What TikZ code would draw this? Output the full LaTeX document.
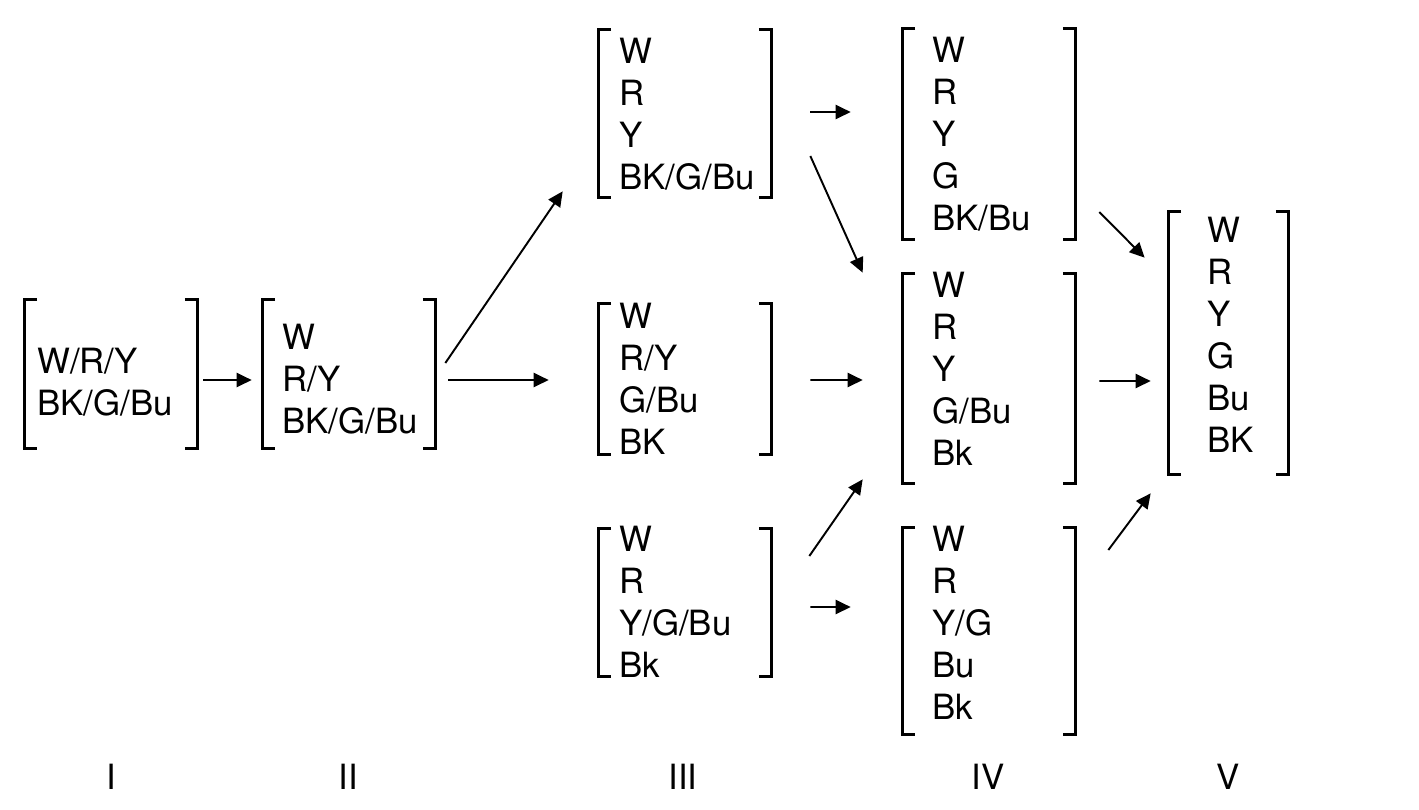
\documentclass[tikz,border=0pt]{standalone}
\usepackage{fontspec}
\setmainfont{TeX Gyre Heros}
\usetikzlibrary{arrows.meta,calc}
\begin{document}
\begin{tikzpicture}[x=0.02cm, y=-0.02cm, font=\fontsize{19.8}{23.9}\selectfont, line cap=butt, >={Triangle[length=8.5pt,width=8pt]},
	box/.style={inner sep=0pt, minimum width=3.46cm},
	txt/.style={inner sep=0pt, anchor=west, align=left},
	brk/.style={line width=1.7pt},
	arr/.style={->, line width=1.1pt}]
			\useasboundingbox (0,0) rectangle (1419,809);
			\node[box, minimum height=2.98cm] (s1) at (111,374) {};
			\node[box, minimum height=2.98cm] (s2) at (349,374) {};
			\node[box, minimum height=3.36cm] (s3a) at (685,113.5) {};
			\node[box, minimum height=3cm] (s3b) at (685,379) {};
			\node[box, minimum height=2.96cm] (s3c) at (685,602.5) {};
			\node[box, minimum height=4.2cm] (s4a) at (989,134) {};
			\node[box, minimum height=4.18cm] (s4b) at (989,378.5) {};
			\node[box, minimum height=4.12cm] (s4c) at (989,631) {};
			\node[box, minimum width=2.4cm, minimum height=5.24cm] (s5) at (1228.5,343) {};
			\foreach \n in {s1,s2,s3a,s3b,s3c,s4a,s4b,s4c,s5}{
				\draw[brk] (\n.north west) ++(13,0) -| (\n.south west) -- ++(13,0);
				\draw[brk] (\n.north east) ++(-13,0) -| (\n.south east) -- ++(-13,0);
			}
			\node[txt] (t1) at (37,382) {W/R/Y\\BK/G/Bu};
			\node[txt] (t2) at (282,379) {W\\R/Y\\BK/G/Bu};
			\node[txt] (t3a) at (619,114) {W\\R\\Y\\BK/G/Bu};
			\node[txt] (t3b) at (619,379) {W\\R/Y\\G/Bu\\BK};
			\node[txt] (t3c) at (619,601.5) {W\\R\\Y/G/Bu\\Bk};
			\node[txt] (t4a) at (932,134.5) {W\\R\\Y\\G\\BK/Bu};
			\node[txt] (t4b) at (932,369) {W\\R\\Y\\G/Bu\\Bk};
			\node[txt] (t4c) at (932,622.5) {W\\R\\Y/G\\Bu\\Bk};
			\node[txt] (t5) at (1207,334.5) {W\\R\\Y\\G\\Bu\\BK};
			\draw[arr] ($(s1.east)+(5.5,6)$) -- ($(s2.west)+(-10.5,6)$);
			\draw[arr] ($(s2.east)+(9.5,-11)$) -- ($(s3a.south west)+(-35.5,-6.5)$);
			\draw[arr] ($(s2.east)+(12.5,6)$) -- ($(s3b.west)+(-49.5,1)$);
			\draw[arr] ($(s3a.east)+(38.5,-1.5)$) -- ($(s4a.west)+(-51.5,-22)$);
			\draw[arr] ($(s3a.east)+(38.5,42.5)$) -- ($(s4b.north west)+(-39.5,-1)$);
			\draw[arr] ($(s3b.east)+(38.5,1)$) -- ($(s4b.west)+(-39.5,1.5)$);
			\draw[arr] ($(s3c.east)+(37.5,-46.5)$) -- ($(s4b.south west)+(-39.5,-4)$);
			\draw[arr] ($(s3c.east)+(38.5,4.5)$) -- ($(s4c.west)+(-51.5,-24)$);
			\draw[arr] ($(s4a.east)+(23.5,78)$) -- ($(s5.north west)+(-23.5,46)$);
			\draw[arr] ($(s4b.east)+(23.5,2.5)$) -- ($(s5.west)+(-17.5,38)$);
			\draw[arr] ($(s4c.east)+(32.5,-81)$) -- ($(s5.south west)+(-17.5,19)$);
			\node (n1) at (111,777) {I};
			\node (n2) at (348,777) {II};
			\node (n3) at (683,777) {III};
			\node (n4) at (988,777) {IV};
			\node (n5) at (1228,777) {V};
		\end{tikzpicture}
\end{document}
